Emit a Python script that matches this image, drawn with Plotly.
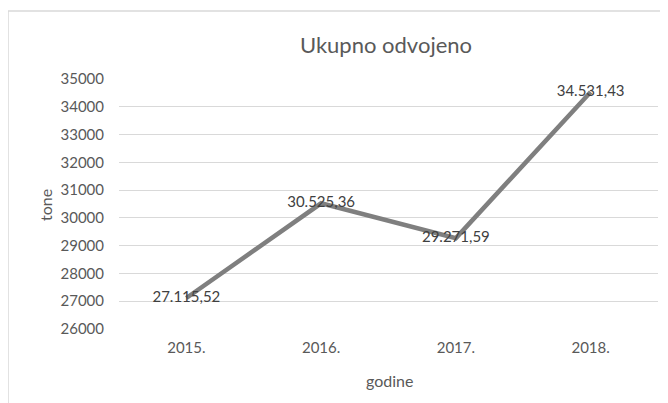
import plotly.graph_objects as go

years = ["2015.", "2016.", "2017.", "2018."]
tone = [27115.52, 30525.36, 29271.59, 34531.43]
y_ticks = [26000, 27000, 28000, 29000, 30000, 31000, 32000, 33000, 34000, 35000]


def hr_format(v):
    s = f"{v:,.2f}"
    return s.replace(",", "X").replace(".", ",").replace("X", ".")


labels = [hr_format(v) for v in tone]

# page body margin offset (8px) compensation
OFF = 8
W, H = 668, 403
# desired plot area in window pixels: x 119..658, y 79..329
pl, pr, pt, pb = 119 - OFF, 658 - OFF, 79 - OFF, 329 - OFF
ml, mr, mt, mb = pl, W - pr, pt, H - pb
pw, ph = pr - pl, pb - pt

FONT = "Lato"

fig = go.Figure()
fig.add_trace(go.Scatter(
    x=years, y=tone, mode="lines+text",
    line=dict(color="#7f7f7f", width=4.5),
    text=labels, textposition="middle center",
    textfont=dict(family=FONT, size=15, color="#404040"),
    hoverinfo="skip", showlegend=False, cliponaxis=False,
))


def px_x(p):
    return (p - OFF - pl) / pw


def px_y(p):
    return (pb - (p - OFF)) / ph


fig.update_layout(
    width=W, height=H,
    margin=dict(l=ml, r=mr, t=mt, b=mb),
    paper_bgcolor="white", plot_bgcolor="white",
    font=dict(family=FONT, color="#595959"),
    title=dict(text="Ukupno odvojeno", x=px_x(386), xref="paper", xanchor="center",
               y=1 - (45 - OFF) / H, yref="container", yanchor="middle",
               font=dict(family=FONT, size=22, color="#595959")),
    xaxis=dict(type="category", range=[-0.5, 3.5], showgrid=False,
               showline=False, zeroline=False, ticks="",
               tickfont=dict(family=FONT, size=15, color="#595959"),
               ticklabelstandoff=8),
    yaxis=dict(range=[26000, 35000], tickvals=y_ticks,
               tickformat="d", showgrid=True, gridcolor="#d9d9d9", gridwidth=1,
               showline=False, zeroline=False, ticks="",
               tickfont=dict(family=FONT, size=15, color="#595959"),
               ticklabelstandoff=14),
    annotations=[
        dict(text="tone", xref="paper", yref="paper", x=px_x(45), y=px_y(205),
             textangle=-90, showarrow=False, xanchor="center", yanchor="middle",
             font=dict(family=FONT, size=16, color="#595959")),
        dict(text="godine", xref="paper", yref="paper", x=px_x(389), y=px_y(380),
             showarrow=False, xanchor="center", yanchor="middle",
             font=dict(family=FONT, size=16, color="#595959")),
    ],
    shapes=[
        dict(type="line", xref="paper", yref="paper",
             x0=px_x(8), x1=px_x(8), y0=px_y(11), y1=px_y(420),
             line=dict(color="#d9d9d9", width=1.5)),
        dict(type="line", xref="paper", yref="paper",
             x0=px_x(8), x1=px_x(700), y0=px_y(11), y1=px_y(11),
             line=dict(color="#d9d9d9", width=1.5)),
    ],
)

fig.write_html("out.html")
